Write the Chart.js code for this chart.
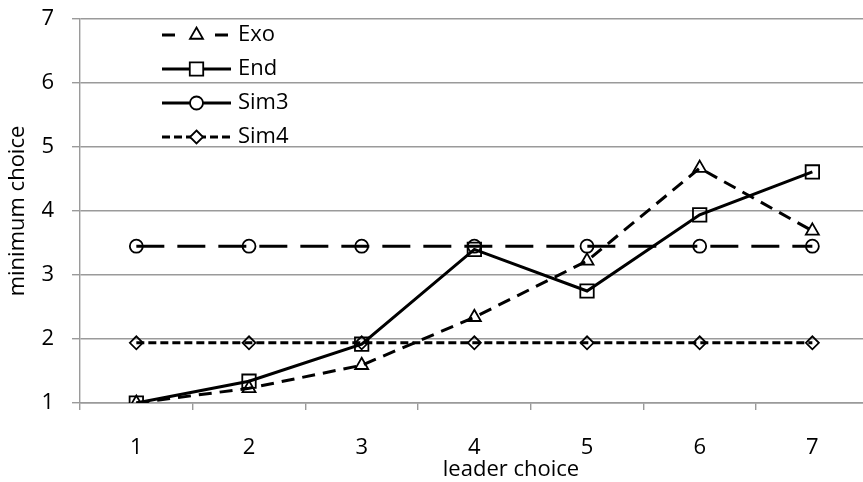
<!DOCTYPE html>
<html>
<head>
<meta charset="utf-8">
<script src="https://cdn.jsdelivr.net/npm/chart.js@4.4.1/dist/chart.umd.min.js"></script>
<style>
    html, body { margin: 0; padding: 0; background: #fff; overflow: hidden; }
    #wrap { width: 880px; height: 482px; }
</style>
</head>
<body>
<div id="wrap"><canvas id="min-choice" width="880" height="482"></canvas></div>
<script>
    "use strict";

    // data
    var categories = ['1', '2', '3', '4', '5', '6', '7'];
    var yTicks = [1, 2, 3, 4, 5, 6, 7];
    var exoValues = [1.0, 1.23, 1.59, 2.34, 3.22, 4.67, 3.69];
    var endValues = [1.0, 1.34, 1.92, 3.40, 2.75, 3.94, 4.61];
    var sim3Values = [3.45, 3.45, 3.45, 3.45, 3.45, 3.45, 3.45];
    var sim4Values = [1.94, 1.94, 1.94, 1.94, 1.94, 1.94, 1.94];

    var fontFamily = '"Open Sans", "DejaVu Sans", sans-serif';
    var gridColor = '#9a9a9a';

    Chart.defaults.font.family = fontFamily;
    Chart.defaults.font.size = 22;
    Chart.defaults.color = '#000';

    // legend entries: line dash, marker and its size
    var legendItems = [
        {text: 'Exo', dash: [13, 40], marker: 'triangle', r: 7.5},
        {text: 'End', dash: [], marker: 'rect', r: 9.5},
        {text: 'Sim3', dash: [], marker: 'circle', r: 6.5},
        {text: 'Sim4', dash: [8, 4], marker: 'rectRot', r: 6.5}
    ];

    function drawMarker(ctx, style, x, y, r) {
        ctx.beginPath();
        if (style === 'triangle') {
            ctx.moveTo(x, y - r);
            ctx.lineTo(x + r * 0.866, y + r * 0.5);
            ctx.lineTo(x - r * 0.866, y + r * 0.5);
            ctx.closePath();
        } else if (style === 'rect') {
            var s = r * Math.SQRT1_2;
            ctx.rect(x - s, y - s, 2 * s, 2 * s);
        } else if (style === 'circle') {
            ctx.arc(x, y, r, 0, Math.PI * 2);
        } else {
            ctx.moveTo(x, y - r);
            ctx.lineTo(x + r, y);
            ctx.lineTo(x, y + r);
            ctx.lineTo(x - r, y);
            ctx.closePath();
        }
        ctx.fill();
        ctx.stroke();
    }

    var extrasPlugin = {
        id: 'extras',
        afterDraw: function (chart) {
            var ctx = chart.ctx;
            ctx.save();
            // legend drawn inside the plot, top left
            var x0 = 162, x1 = 231, y = 35;
            legendItems.forEach(function (item) {
                ctx.strokeStyle = '#000';
                ctx.lineWidth = 3;
                ctx.lineCap = 'butt';
                ctx.setLineDash(item.dash);
                ctx.beginPath();
                ctx.moveTo(x0, y);
                ctx.lineTo(x1, y);
                ctx.stroke();
                ctx.setLineDash([]);
                ctx.lineWidth = 1.8;
                ctx.fillStyle = '#fff';
                drawMarker(ctx, item.marker, (x0 + x1) / 2, y, item.r);
                ctx.fillStyle = '#000';
                ctx.font = '22px ' + fontFamily;
                ctx.textAlign = 'left';
                ctx.textBaseline = 'middle';
                ctx.fillText(item.text, 238, y);
                y += 34;
            });
            // x axis title, sits right of plot centre in the reference
            ctx.font = '22px ' + fontFamily;
            ctx.textAlign = 'center';
            ctx.textBaseline = 'middle';
            ctx.fillText('leader choice', 511, 470);
            ctx.restore();
        }
    };

    function series(label, data, dash, style, r) {
        return {
            label: label,
            data: data,
            borderColor: '#000',
            borderWidth: 3,
            borderDash: dash,
            fill: false,
            tension: 0,
            pointStyle: style,
            pointRadius: r,
            pointHoverRadius: r,
            pointBorderWidth: 1.8,
            pointBorderColor: '#000',
            pointBackgroundColor: 'rgba(255,255,255,0)'
        };
    }

    var ctx = document.getElementById('min-choice').getContext('2d');
    var chart = new Chart(ctx, {
        type: 'line',
        data: {
            labels: categories,
            datasets: [
                series('Exo', exoValues, [13, 8], 'triangle', 7.5),
                series('End', endValues, [], 'rect', 9.5),
                series('Sim3', sim3Values, [28, 13], 'circle', 6.5),
                series('Sim4', sim4Values, [8, 4], 'rectRot', 6.5)
            ]
        },
        options: {
            responsive: false,
            animation: false,
            layout: {padding: {top: 19, right: 11, left: 0, bottom: 0}},
            plugins: {
                legend: {display: false},
                tooltip: {enabled: false}
            },
            scales: {
                x: {
                    type: 'category',
                    offset: true,
                    grid: {
                        offset: true,
                        drawOnChartArea: false,
                        drawTicks: true,
                        tickLength: 7,
                        color: gridColor,
                        lineWidth: 1.4
                    },
                    border: {color: gridColor, width: 1.4},
                    ticks: {padding: 25, maxRotation: 0},
                    afterFit: function (scale) {
                        scale.height = 79;
                        scale.paddingLeft = 0;
                        scale.paddingRight = 0;
                    }
                },
                y: {
                    min: 1,
                    max: 7,
                    afterBuildTicks: function (scale) {
                        scale.ticks = yTicks.map(function (v) {
                            return {value: v};
                        });
                    },
                    grid: {
                        color: gridColor,
                        lineWidth: 1.4,
                        drawTicks: true,
                        tickLength: 8
                    },
                    border: {color: gridColor, width: 1.4},
                    ticks: {padding: 18},
                    title: {
                        display: true,
                        text: 'minimum choice',
                        padding: {top: 5, bottom: 0}
                    },
                    afterFit: function (scale) {
                        scale.width = 80;
                        scale.paddingTop = 0;
                        scale.paddingBottom = 0;
                    }
                }
            }
        },
        plugins: [extrasPlugin]
    });
</script>
</body>
</html>
